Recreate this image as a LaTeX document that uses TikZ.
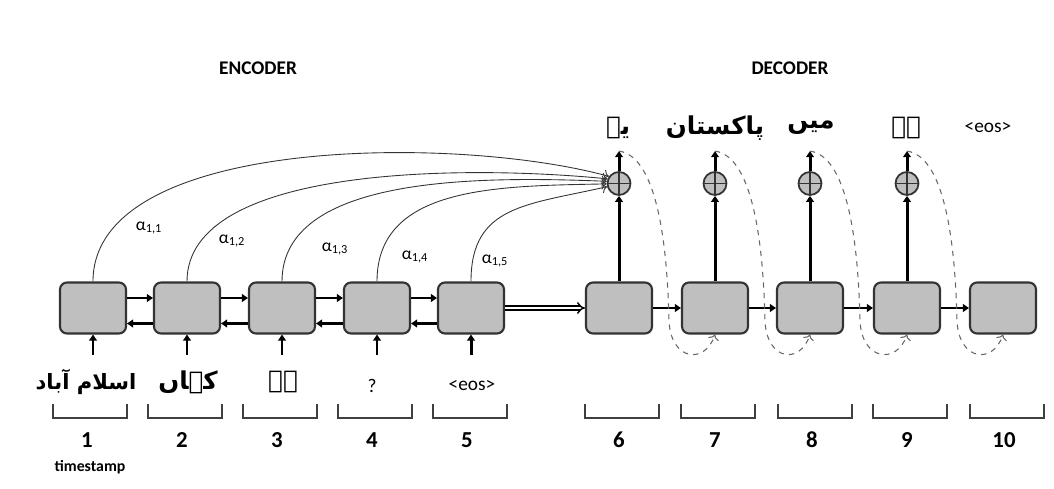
\documentclass[tikz,border=0pt]{standalone}
\usepackage{fontspec}
\setmainfont{Carlito}
\newfontfamily\urdufont[Script=Arabic]{DejaVu Sans}
\TeXXeTstate=1
\usetikzlibrary{arrows.meta}
\newcommand{\al}[1]{α\textsubscript{#1}}

\begin{document}
\begin{tikzpicture}[x=0.02cm,y=-0.02cm]
  \tikzset{cell/.style={draw=black!80, line width=1.2pt, fill=gray!50, rounded corners=4pt,
                        minimum width=1.32cm, minimum height=1.02cm, inner sep=0pt},
           sum/.style={circle, draw=black!80, line width=1pt, fill=gray!50, minimum size=0.46cm, inner sep=0pt,
                       path picture={\draw[black!80, line width=0.9pt]
                         (path picture bounding box.north) -- (path picture bounding box.south)
                         (path picture bounding box.west) -- (path picture bounding box.east);}},
           fat/.style={line width=1.7pt, -{Triangle[length=3.5pt,width=4.5pt]}},
           att/.style={black!80, line width=0.5pt, -{To[length=3pt]}},
           loop/.style={gray!80!black, dashed, line width=0.6pt, -{To[length=3pt]}},
           brace/.style={black!75, line width=1.1pt},
           word/.style={font=\urdufont\bfseries\fontsize{14}{17}\selectfont},
           tick/.style={font=\bfseries\fontsize{13}{15}\selectfont}}
  \useasboundingbox (0,0) rectangle (1054,489);
  \node[font=\bfseries\fontsize{11}{13}\selectfont] (enctitle) at (258,68) {ENCODER};
  \node[font=\bfseries\fontsize{11}{13}\selectfont] (dectitle) at (790,68) {DECODER};
  % cells
  \foreach \i/\x in {1/93,2/187,3/282,4/377,5/471,6/619,7/715,8/810,9/907,10/1003}
    \node[cell] (cell\i) at (\x,308) {};
  % recurrent links
  \foreach \i/\j in {1/2,2/3,3/4,4/5}{
    \draw[fat] ([yshift=0.2cm]cell\i.east) -- ([yshift=0.2cm]cell\j.west);
    \draw[fat] ([yshift=-0.31cm]cell\j.west) -- ([yshift=-0.31cm]cell\i.east);}
  \draw[line width=0.8pt, double distance=1.4pt, -{Implies}] (cell5.east) -- (cell6.west);
  \foreach \i/\j in {6/7,7/8,8/9,9/10}
    \draw[fat] (cell\i.east) -- (cell\j.west);
  % inputs
  \foreach \i in {1,...,5}
    \draw[fat] ([yshift=-0.4cm]cell\i.south) -- (cell\i.south);
  \node[word, font=\urdufont\bfseries\fontsize{12}{15}\selectfont] (in1) at (86,382) {\beginR اسلام آباد\endR};
  \node[word] (in2) at (188,382) {\beginR کہاں\endR};
  \node[word] (in3) at (283,382) {\beginR ہے\endR};
  \node[font=\fontsize{11}{13}\selectfont] (in4) at (372,386) {?};
  \node[font=\fontsize{11}{13}\selectfont] (in5) at (472,386) {<eos>};
  % outputs
  \foreach \i in {6,...,9}{
    \node[sum] (sum\i) at ([yshift=1.96cm]cell\i.north) {};
    \coordinate (out\i) at ([yshift=0.4cm]sum\i.north);
    \draw[fat] (cell\i.north) -- (sum\i.south);
    \draw[fat] (sum\i.north) -- (out\i);}
  \node[word] (word6) at (618,128) {\beginR یہ\endR};
  \node[word] (word7) at (715,128) {\beginR پاکستان\endR};
  \node[word] (word8) at (811,128) {\beginR میں\endR};
  \node[word] (word9) at (906,128) {\beginR ہے\endR};
  \node[font=\fontsize{11}{13}\selectfont] (word10) at (988,128) {<eos>};
  % feedback of each output
  \foreach \i/\j in {6/7,7/8,8/9,9/10}
    \draw[loop] (out\i) .. controls +(35,5) and +(-2,-90) .. ++(50,170)
                        .. controls +(2,40) and +(-10,30) .. (cell\j.south);
  % attention
  \foreach \i/\c/\w/\a in {1/135/150/145,2/165/140/158,3/176/130/170,4/186/110/182,5/205/80/195}
    \draw[att] (cell\i.north) .. controls (cell\i.north |- 0,\c) and ([xshift=-\w*0.02cm]sum6.\a |- 0,\c) .. (sum6.\a);
  \node[font=\fontsize{10}{12}\selectfont] (a11) at (149,228) {\al{1,1}};
  \node[font=\fontsize{10}{12}\selectfont] (a12) at (232,241) {\al{1,2}};
  \node[font=\fontsize{10}{12}\selectfont] (a13) at (335,249) {\al{1,3}};
  \node[font=\fontsize{10}{12}\selectfont] (a14) at (415,257) {\al{1,4}};
  \node[font=\fontsize{10}{12}\selectfont] (a15) at (495,261) {\al{1,5}};
  % timestamps
  \foreach \i/\x in {1/90,2/185,3/280,4/375,5/470,6/622,7/718,8/815,9/910,10/1007}{
    \draw[brace] (\x-37,404) |- (\x+37,418) -- (\x+37,404);
    \node[tick] (t\i) at (\x-3,440) {\i};}
  \node[font=\bfseries\fontsize{9}{11}\selectfont] (tslabel) at (90,467) {timestamp};
\end{tikzpicture}
\end{document}
